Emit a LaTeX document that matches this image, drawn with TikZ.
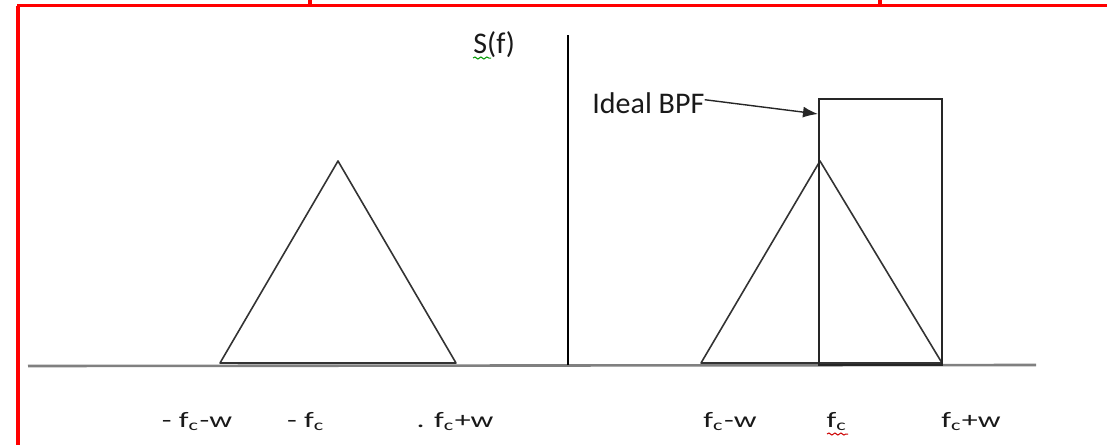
\documentclass[tikz,border=0pt]{standalone}
\usepackage{graphicx}
\usepackage{fontspec}
\setmainfont{Carlito}
\usetikzlibrary{arrows.meta,decorations.pathmorphing}
\newcommand\stretchtxt[1]{\scalebox{1.45}[1]{#1}}
\begin{document}
\begin{tikzpicture}[x=0.5pt,y=-0.5pt,
  frame/.style={draw=red,line width=1.6pt},
  tri/.style={draw=black!80,line width=0.8pt,line join=round},
  axisx/.style={draw=black!50,line width=1.3pt},
  axisy/.style={draw=black,line width=1pt},
  bpfbox/.style={draw=black!85,line width=0.9pt},
  lbl/.style={inner sep=0pt,anchor=base,text=black!90,font=\fontsize{11}{13}\selectfont},
  big/.style={inner sep=0pt,anchor=base west,text=black!90,font=\fontsize{15}{17}\selectfont},
  squig/.style={decorate,decoration={snake,amplitude=0.5pt,segment length=3pt},line width=0.5pt},
  pointer/.style={draw=black!85,line width=0.7pt,-{Latex[length=7.5pt,width=5.5pt]}}]
\useasboundingbox (0,0) rectangle (1107,445);
% red frame
\draw[frame] (17,5.5) -- (1107,5.5);
\draw[frame] (18,5.5) -- (18,445);
\draw[frame] (310,0) -- (310,5.5);
\draw[frame] (880,0) -- (880,5.5);
% axes
\coordinate (xl) at (28,366);
\coordinate (xr) at (1036,365);
\coordinate (yb) at (568,365);
\coordinate (yt) at (568,35);
\draw[axisx] (xl) -- (xr);
\draw[axisy] (yb) -- (yt);
% left triangle
\coordinate (l1) at (220,363);
\coordinate (l2) at (338,161);
\coordinate (l3) at (456,363);
\draw[tri] (l1) -- (l2) -- (l3) -- cycle;
% right triangle
\coordinate (r1) at (701,363);
\coordinate (r2) at (820,161);
\coordinate (r3) at (942,363);
\draw[tri] (r1) -- (r2) -- (r3) -- cycle;
% ideal BPF rectangle
\draw[bpfbox] (819,99) rectangle (942,365);
\coordinate (tip) at (818,114);
% labels
\node[big] (sf) at (473,53) {S(f)};
\draw[green!60!black,squig] (473,58) -- (491,58);
\node[big] (bpf) at (592,113) {Ideal BPF};
\draw[pointer] ([yshift=1.5pt]bpf.east) -- (tip);
\node[lbl] (a1) at (197,427) {\stretchtxt{- f\textsubscript{c}-w}};
\node[lbl] (a2) at (306,427) {\stretchtxt{- f\textsubscript{c}}};
\node[lbl] (a3) at (455,427) {\stretchtxt{. f\textsubscript{c}+w}};
\node[lbl] (b1) at (730,427) {\stretchtxt{f\textsubscript{c}-w}};
\node[lbl] (b2) at (837,427) {\stretchtxt{f\textsubscript{c}}};
\node[lbl] (b3) at (971,427) {\stretchtxt{f\textsubscript{c}+w}};
\draw[red!80!black,squig] (827,434) -- (848,434);
\end{tikzpicture}
\end{document}
